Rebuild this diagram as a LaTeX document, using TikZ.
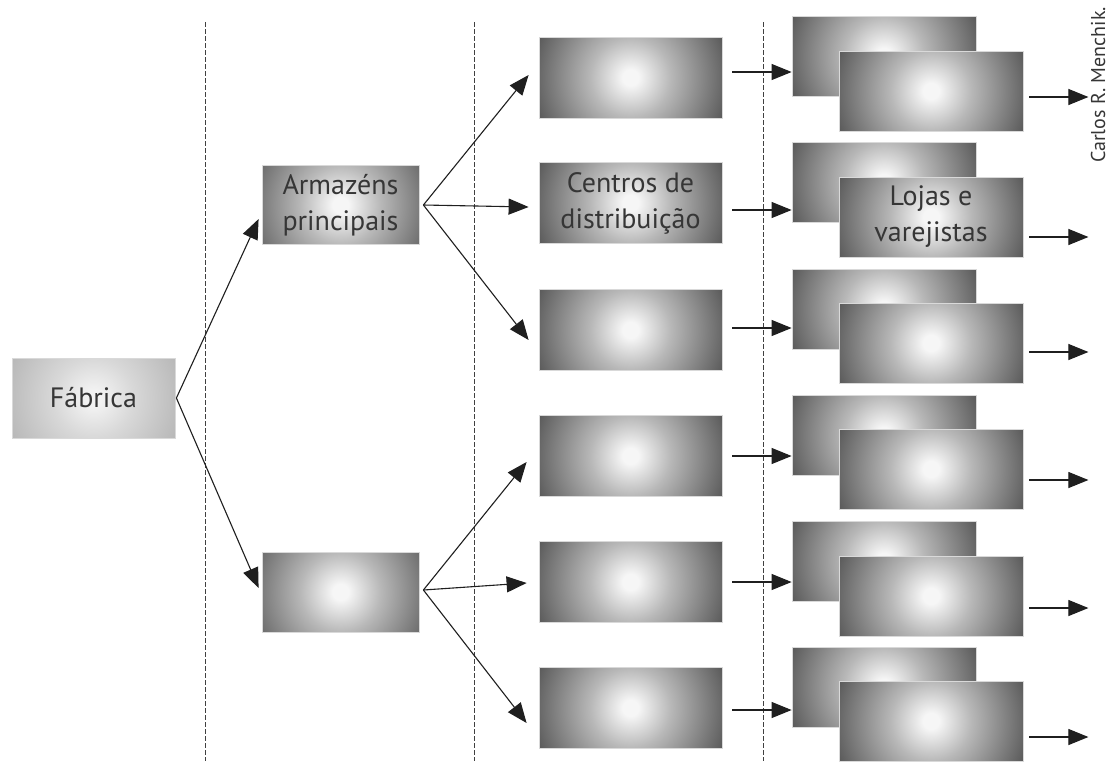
\documentclass[tikz,border=0pt]{standalone}
\usepackage{fontspec}
\setmainfont{PT Sans}
\usetikzlibrary{arrows.meta,calc}

\definecolor{ink}{HTML}{363636}
\definecolor{glowA}{HTML}{F6F6F6}
\definecolor{glowB}{HTML}{B8B8B8}
\definecolor{glowC}{HTML}{6A6A6A}
\definecolor{glowD}{HTML}{5A5A5A}
\definecolor{paleA}{HTML}{F2F2F2}
\definecolor{paleB}{HTML}{D8D8D8}
\definecolor{paleC}{HTML}{B8B8B8}
\definecolor{paleD}{HTML}{B0B0B0}

% round glow from a bright centre to dark edges
% (the 25bp ring is the edge of the shaded circle)
\pgfdeclareradialshading{boxglow}{\pgfpoint{0bp}{0bp}}{%
  color(0bp)=(glowA); color(2bp)=(glowA); color(10bp)=(glowB);
  color(22.5bp)=(glowC); color(25bp)=(glowD); color(50bp)=(glowD)}
\pgfdeclareradialshading{paleglow}{\pgfpoint{0bp}{0bp}}{%
  color(0bp)=(paleA); color(2bp)=(paleA); color(10bp)=(paleB);
  color(22.5bp)=(paleC); color(25bp)=(paleD); color(50bp)=(paleD)}

\tikzset{
  box/.style={minimum width=183pt, minimum height=81pt, inner sep=0pt,
    draw=black!15, line width=0.8pt, text=ink, align=center,
    font=\fontsize{28}{36}\selectfont,
    path picture={\shade[shading=boxglow]
      (path picture bounding box.center) circle[radius=100pt];}},
  palebox/.style={box, path picture={\shade[shading=paleglow]
      (path picture bounding box.center) circle[radius=100pt];}},
  hub/.style={box, minimum width=157pt, minimum height=79pt},
  store/.style={box, minimum width=184pt, minimum height=80pt},
  arr/.style={-{Triangle[length=20pt,width=16pt]}, line width=1.1pt, draw=black!88},
  sep/.style={dashed, dash pattern=on 4.5pt off 2.5pt, line width=1pt, draw=black!75}
}

\begin{document}
\begin{tikzpicture}[x=1pt, y=-1pt]
\useasboundingbox[fill=white] (0,0) rectangle (1113,761);

% stage separators
\draw[sep] (205,22) -- (205,761);
\draw[sep] (474,22) -- (474,761);
\draw[sep] (763,22) -- (763,761);

% factory and main warehouses
\node[palebox, minimum width=163pt, minimum height=80pt] (fab) at (93.5,398) {Fábrica};
\node[hub] (a1) at (340.5,205) {Armazéns\\principais};
\node[hub, minimum height=80pt] (a2) at (340.5,592) {};

% distribution centres
\node[box] (d1) at (630.5,77.5) {};
\node[box] (d2) at (630.5,203) {Centros de\\distribuição};
\node[box] (d3) at (630.5,330) {};
\node[box] (d4) at (630.5,456) {};
\node[box] (d5) at (630.5,582) {};
\node[box] (d6) at (630.5,708) {};

% shops and retailers, each as a back and a front card
\node[store] (b1) at (884,56) {};
\node[store] (f1) at (931,91) {};
\node[store] (b2) at (884,182) {};
\node[store] (f2) at (931,217) {Lojas e\\varejistas};
\node[store] (b3) at (884,309) {};
\node[store] (f3) at (931,343) {};
\node[store] (b4) at (884,435) {};
\node[store] (f4) at (931,469) {};
\node[store] (b5) at (884,561) {};
\node[store] (f5) at (931,596) {};
\node[store] (b6) at (884,687) {};
\node[store] (f6) at (931,721) {};

% factory to warehouses
\coordinate (fo) at ($(fab.east)+(1,0)$);
\draw[arr] (fo) -- ($(a1.west)+(-3,14)$);
\draw[arr] (fo) -- ($(a2.west)+(-3,-4)$);

% warehouses to distribution centres
\coordinate (o1) at ($(a1.east)+(4,0)$);
\draw[arr] (o1) -- ($(d1.west)+(-10,-2.5)$);
\draw[arr] (o1) -- ($(d2.west)+(-10,4)$);
\draw[arr] (o1) -- ($(d3.west)+(-10,10)$);
\coordinate (o2) at ($(a2.east)+(4,-2)$);
\draw[arr] (o2) -- ($(d4.west)+(-12,6)$);
\draw[arr] (o2) -- ($(d5.west)+(-12,1)$);
\draw[arr] (o2) -- ($(d6.west)+(-12,15)$);

% distribution centres to shops
\foreach \i/\dy in {1/-5.5,2/7,3/-2,4/0,5/0,6/2}{
  \coordinate (s\i) at ($(d\i.east)+(10,\dy)$);
  \draw[arr] (s\i) -- (s\i -| b\i.west);
}

% onward from the shops
\foreach \i/\dy in {1/6,2/20,3/9,4/11,5/12,6/16}{
  \coordinate (e\i) at ($(f\i.east)+(6,\dy)$);
  \coordinate (t\i) at ($(e\i)+(59,0)$);
  \draw[arr] (e\i) -- (t\i);
}

% credit line
\node[rotate=90, text=ink, font=\fontsize{20}{22}\selectfont, inner sep=0pt] (credit) at (1098,85) {Carlos R. Menchik.};
\end{tikzpicture}
\end{document}
